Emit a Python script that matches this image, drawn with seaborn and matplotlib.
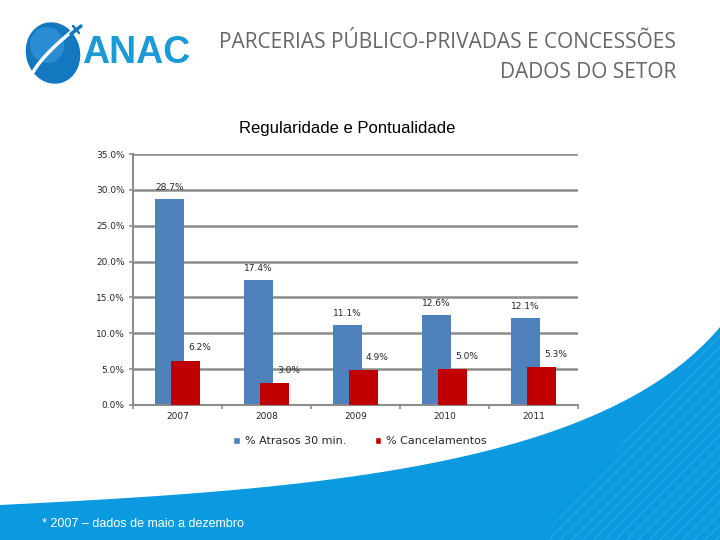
import numpy as np
import pandas as pd
import matplotlib
matplotlib.use("Agg")
import matplotlib.pyplot as plt
import seaborn as sns
from matplotlib.patches import Ellipse, Polygon, Rectangle

# ---------------- data ----------------
years = ["2007", "2008", "2009", "2010", "2011"]
atrasos = [28.7, 17.4, 11.1, 12.6, 12.1]
cancelamentos = [6.2, 3.0, 4.9, 5.0, 5.3]
series_names = ["% Atrasos 30 min.", "% Cancelamentos"]
y_ticks = [0, 5, 10, 15, 20, 25, 30, 35]

df = pd.DataFrame({
    "ano": years * 2,
    "valor": atrasos + cancelamentos,
    "serie": [series_names[0]] * len(years) + [series_names[1]] * len(years),
})

BLUE = "#4F81BD"
RED = "#C00000"
GRID = "#8C8C8C"
SWOOSH = "#0B9ADF"

sns.set_theme(style="white")
plt.rcParams["font.family"] = ["DejaVu Sans"]
plt.rcParams["hatch.linewidth"] = 0.6

fig = plt.figure(figsize=(7.2, 5.4), dpi=100)
fig.patch.set_facecolor("white")

# ---------------- background (swoosh) ----------------
bg = fig.add_axes([0, 0, 1, 1], zorder=0)
bg.set_xlim(0, 720)
bg.set_ylim(540, 0)
bg.axis("off")
t = np.linspace(0, 1, 200)
P0, P1, P2, P3 = np.array([0, 505]), np.array([300, 490]), np.array([600, 470]), np.array([720, 327])
curve = ((1 - t) ** 3)[:, None] * P0 + (3 * (1 - t) ** 2 * t)[:, None] * P1 \
    + (3 * (1 - t) * t ** 2)[:, None] * P2 + (t ** 3)[:, None] * P3
poly = np.vstack([curve, [[720, 540], [0, 540]]])
bg.add_patch(Polygon(poly, closed=True, facecolor=SWOOSH, edgecolor="none"))
# subtle hatch texture in the bottom-right
hp = Polygon(poly, closed=True, facecolor="none", edgecolor="#34AAE6",
             hatch="///", linewidth=0)
bg.add_patch(hp)
clip = Polygon([[720, 330], [720, 540], [540, 540]], closed=True, transform=bg.transData)
hp.set_clip_path(clip)

bg.text(42, 524, "* 2007 – dados de maio a dezembro", color="white",
        fontsize=9, family="Liberation Sans", va="center", ha="left")

# ---------------- header ----------------
bg.text(676, 43, "PARCERIAS PÚBLICO-PRIVADAS E CONCESSÕES", color="#666666",
        fontsize=15, family="Open Sans", ha="right", va="center")
bg.text(676, 72, "DADOS DO SETOR", color="#666666",
        fontsize=15, family="Open Sans", ha="right", va="center")

# logo
bg.add_patch(Ellipse((53, 53), 54, 62, angle=-15, facecolor="#1478C0", edgecolor="none"))
bg.add_patch(Ellipse((47, 45), 34, 36, angle=-15, facecolor="#3A9BE0", edgecolor="none", alpha=0.6))
sw = np.linspace(0, 1, 50)
sx = 30 + 50 * sw
sy = 80 - 55 * sw ** 0.7
bg.plot(sx, sy, color="white", lw=2.5, solid_capstyle="round")
bg.plot([71, 81], [34, 26], color="#1478C0", lw=2.5, solid_capstyle="round")
bg.plot([73, 79], [26, 33], color="#1478C0", lw=1.8)
bg.text(82, 53, "ANAC", color="#1C9AD6", fontsize=27, fontweight="bold",
        family="Liberation Sans", ha="left", va="center")

# chart title
bg.text(347, 129, "Regularidade e Pontualidade", color="black", fontsize=12,
        family="Liberation Sans", ha="center", va="center")

# ---------------- chart ----------------
ax = fig.add_axes([133 / 720, 1 - 405 / 540, 445 / 720, 251 / 540], zorder=2)
ax.patch.set_alpha(0)
sns.barplot(data=df, x="ano", y="valor", hue="serie", order=years,
            hue_order=series_names, palette=[BLUE, RED], width=0.36,
            saturation=1, ax=ax, legend=True, errorbar=None)

bar_w = 0.315
for p in ax.patches:
    if p.get_height() == 0 and p.get_width() == 0:
        continue
    c = p.get_x() + p.get_width() / 2
    p.set_x(c - bar_w / 2)
    p.set_width(bar_w)
    p.set_edgecolor("none")
    if p.get_facecolor()[0] > 0.6:  # red on top
        p.set_zorder(3)
    else:
        p.set_zorder(2)

# data labels
for cont, is_red in zip(ax.containers, [False, True]):
    for p in cont:
        cx = p.get_x() + p.get_width() / 2
        h = p.get_height()
        if is_red:
            ax.annotate(f"{h:.1f}%", (cx, h), xytext=(10, 6), textcoords="offset points",
                        ha="center", va="bottom", fontsize=6.5, zorder=5)
        else:
            ax.annotate(f"{h:.1f}%", (cx, h), xytext=(0, 5), textcoords="offset points",
                        ha="center", va="bottom", fontsize=6.5, zorder=5)

ax.set_xlim(-0.5, len(years) - 0.5)
ax.set_ylim(0, 35)
ax.set_yticks(y_ticks)
ax.set_yticklabels([f"{v:.1f}%" for v in y_ticks], fontsize=6.5)
ax.set_xticks(range(len(years)))
ax.set_xticklabels(years, fontsize=6.5)
ax.tick_params(axis="x", length=0, pad=5)
ax.tick_params(axis="y", length=3, width=1.2, color=GRID, pad=3, direction="out", left=True)
ax.set_xticks(np.arange(-0.5, len(years), 1), minor=True)
ax.tick_params(axis="x", which="minor", length=3, width=1.2, color=GRID, bottom=True)
ax.set_xlabel("")
ax.set_ylabel("")
ax.yaxis.grid(True, color=GRID, lw=1.8)
ax.set_axisbelow(True)
for s in ["top", "right"]:
    ax.spines[s].set_visible(False)
for s in ["left", "bottom"]:
    ax.spines[s].set_color(GRID)
    ax.spines[s].set_linewidth(1.5)

ax.legend(loc="upper center", bbox_to_anchor=(0.51, -0.085), ncol=2, frameon=False,
          fontsize=8, handlelength=0.6, handleheight=0.6, columnspacing=2.6,
          handletextpad=0.4)

fig.savefig("out.png", dpi=100)
